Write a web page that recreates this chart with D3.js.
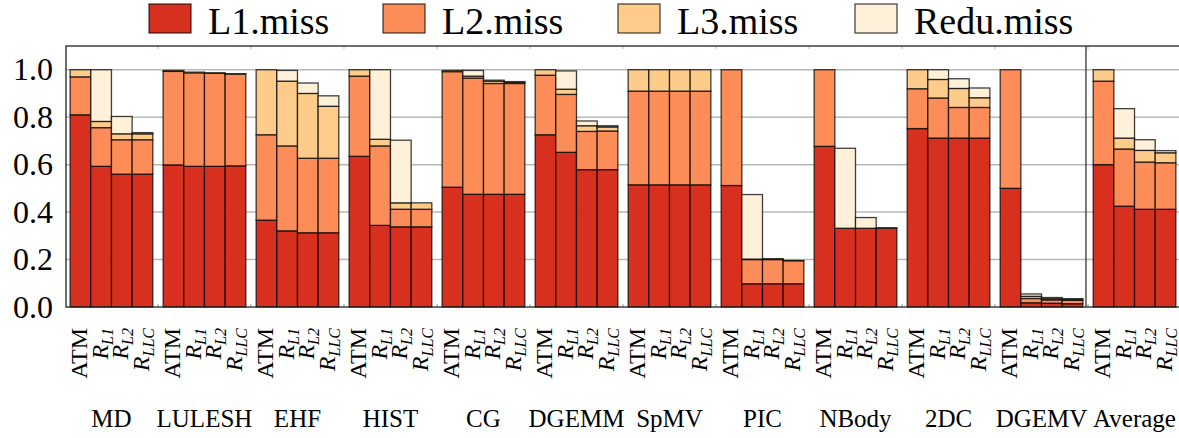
<!DOCTYPE html>
<html>
<head>
<meta charset="utf-8">
<script src="https://cdn.jsdelivr.net/npm/d3@7"></script>
<style>
  body { margin: 0; background: #fff; }
  svg text { font-family: "Liberation Serif", "Times New Roman", Tinos, "DejaVu Serif", serif !important; fill: #000; }
</style>
</head>
<body>
<div id="chart"></div>
<script>
// benchmark groups and the four configurations in each
const groups = ["MD", "LULESH", "EHF", "HIST", "CG", "DGEMM", "SpMV", "PIC", "NBody", "2DC", "DGEMV", "Average"];
const configs = ["ATM", "L1", "L2", "LLC"];
const seriesNames = ["L1.miss", "L2.miss", "L3.miss", "Redu.miss"];
const colors = ["#d7301f", "#fc8d59", "#fdcc8a", "#fef0d9"];
const yTicks = [0, 0.2, 0.4, 0.6, 0.8, 1.0];

// segment sizes, 4 values per group (ATM, R_L1, R_L2, R_LLC)
const l1Miss = [
  0.81, 0.593, 0.56, 0.56,
  0.599, 0.593, 0.593, 0.595,
  0.366, 0.321, 0.313, 0.313,
  0.635, 0.344, 0.338, 0.338,
  0.505, 0.475, 0.475, 0.475,
  0.726, 0.652, 0.579, 0.579,
  0.515, 0.515, 0.515, 0.515,
  0.512, 0.098, 0.098, 0.098,
  0.677, 0.332, 0.332, 0.332,
  0.752, 0.712, 0.712, 0.712,
  0.5, 0.018, 0.016, 0.014,
  0.6, 0.425, 0.412, 0.412
];
const l2Miss = [
  0.16, 0.163, 0.145, 0.145,
  0.394, 0.394, 0.392, 0.387,
  0.36, 0.358, 0.314, 0.314,
  0.338, 0.335, 0.074, 0.074,
  0.487, 0.49, 0.467, 0.467,
  0.251, 0.244, 0.161, 0.163,
  0.395, 0.395, 0.395, 0.395,
  0.488, 0.102, 0.102, 0.097,
  0.323, 0, 0, 0,
  0.168, 0.169, 0.129, 0.129,
  0.5, 0.018, 0.014, 0.014,
  0.352, 0.241, 0.199, 0.196
];
const l3Miss = [
  0.03, 0.026, 0.025, 0.025,
  0.004, 0.003, 0.002, 0.001,
  0.274, 0.273, 0.273, 0.219,
  0.027, 0.028, 0.027, 0.027,
  0.005, 0.008, 0.01, 0.005,
  0.023, 0.022, 0.024, 0.017,
  0.09, 0.09, 0.09, 0.09,
  0, 0.002, 0.002, 0.001,
  0, 0, 0, 0,
  0.08, 0.078, 0.08, 0.041,
  0, 0.009, 0.005, 0.005,
  0.048, 0.046, 0.049, 0.042
];
const reduMiss = [
  0, 0.218, 0.073, 0.005,
  0, 0, 0, 0,
  0, 0.045, 0.044, 0.044,
  0, 0.293, 0.264, 0,
  0, 0.024, 0.004, 0.003,
  0, 0.077, 0.02, 0.005,
  0, 0, 0, 0,
  0, 0.272, 0.001, 0,
  0, 0.337, 0.045, 0.002,
  0, 0.041, 0.041, 0.041,
  0, 0.01, 0.005, 0.002,
  0, 0.124, 0.045, 0.009
];

const width = 1179, height = 438;
const margin = { top: 46, right: 0, bottom: 131, left: 66 };
const plotRight = 1180;
const plotBottom = height - margin.bottom;
const serif = "'Liberation Serif', 'Times New Roman', Tinos, 'DejaVu Serif', serif";

const svg = d3.select("#chart").append("svg")
  .attr("width", width)
  .attr("height", height)
  .attr("font-family", serif);

// bar slots: each group is 4 bars plus half a bar of gap
const groupStep = 4.5;
const x = d3.scaleLinear()
  .domain([-0.2, (groups.length - 1) * groupStep + 4.2])
  .range([margin.left, plotRight]);
const y = d3.scaleLinear().domain([0, 1.1]).range([plotBottom, margin.top]);

// build rows for the stack
const rows = [];
groups.forEach((g, gi) => {
  configs.forEach((c, ci) => {
    const k = gi * 4 + ci;
    rows.push({ group: g, config: c, pos: gi * groupStep + ci,
      "L1.miss": l1Miss[k], "L2.miss": l2Miss[k], "L3.miss": l3Miss[k], "Redu.miss": reduMiss[k] });
  });
});
const stacked = d3.stack().keys(seriesNames)(rows);

// grid lines
svg.append("g")
  .selectAll("line")
  .data(yTicks.filter(d => d > 0))
  .enter().append("line")
  .attr("x1", margin.left).attr("x2", plotRight)
  .attr("y1", d => y(d)).attr("y2", d => y(d))
  .attr("stroke", "#b8b8b8")
  .attr("stroke-width", 1.5);

// small ticks between groups
const gapTicks = d3.range(groups.length - 1).map(i => i * groupStep + 4.25);
svg.append("g").selectAll("line")
  .data(gapTicks)
  .enter().append("line")
  .attr("x1", d => x(d)).attr("x2", d => x(d))
  .attr("y1", plotBottom).attr("y2", plotBottom - 3)
  .attr("stroke", "#999");
svg.append("g").selectAll("line")
  .data(gapTicks)
  .enter().append("line")
  .attr("x1", d => x(d)).attr("x2", d => x(d))
  .attr("y1", margin.top).attr("y2", margin.top + 3)
  .attr("stroke", "#bbb");

// stacked bars
const barW = x(1) - x(0);
svg.append("g")
  .selectAll("g")
  .data(stacked)
  .enter().append("g")
  .attr("fill", (d, i) => colors[i])
  .selectAll("rect")
  .data(d => d.filter(s => s[1] - s[0] > 0))
  .enter().append("rect")
  .attr("x", d => x(d.data.pos))
  .attr("width", barW)
  .attr("y", d => y(d[1]))
  .attr("height", d => y(d[0]) - y(d[1]))
  .attr("stroke", "rgba(0,0,0,0.75)")
  .attr("stroke-width", 1.3);

// frame
svg.append("rect")
  .attr("x", margin.left).attr("y", margin.top)
  .attr("width", plotRight - margin.left)
  .attr("height", plotBottom - margin.top)
  .attr("fill", "none")
  .attr("stroke", "#222")
  .attr("stroke-width", 1.3);

// separator before the average group
const sepX = x((groups.length - 1) * groupStep - 0.35);
svg.append("line")
  .attr("x1", sepX).attr("x2", sepX)
  .attr("y1", margin.top).attr("y2", plotBottom)
  .attr("stroke", "#333")
  .attr("stroke-width", 1.3);

// y axis
const yAxis = svg.append("g")
  .attr("transform", `translate(${margin.left},0)`)
  .call(d3.axisLeft(y).tickValues(yTicks).tickFormat(d3.format(".1f")).tickSize(0).tickPadding(13));
yAxis.attr("font-family", serif);
yAxis.select(".domain").remove();
yAxis.selectAll("text").style("font-size", "32px");

// rotated config labels
const labels = svg.append("g").selectAll("text")
  .data(rows)
  .enter().append("text")
  .attr("transform", d => `translate(${x(d.pos + 0.5) - 2},328) rotate(-90)`)
  .attr("text-anchor", "end")
  .attr("dy", "0.35em")
  .style("font-size", "24px");
labels.each(function(d) {
  const t = d3.select(this);
  if (d.config === "ATM") {
    t.text("ATM");
  } else {
    t.append("tspan").style("font-style", "italic").text("R");
    t.append("tspan").style("font-style", "italic").style("font-size", "16px")
      .attr("dy", "5").text(d.config);
  }
});

// group labels
svg.append("g").selectAll("text")
  .data(groups)
  .enter().append("text")
  .attr("x", (d, i) => x(i * groupStep + 2))
  .attr("y", 427)
  .attr("text-anchor", "middle")
  .style("font-size", "25px")
  .text(d => d);

// legend
const legendX = [149, 383, 618, 855];
const legend = svg.append("g").selectAll("g")
  .data(seriesNames)
  .enter().append("g")
  .attr("transform", (d, i) => `translate(${legendX[i]},4)`);
legend.append("rect")
  .attr("width", 42).attr("height", 29)
  .attr("fill", (d, i) => colors[i])
  .attr("stroke", "rgba(0,0,0,0.7)")
  .attr("stroke-width", 1.3);
legend.append("text")
  .attr("x", 59).attr("y", 30)
  .style("font-size", "38px")
  .text(d => d);
</script>
</body>
</html>
